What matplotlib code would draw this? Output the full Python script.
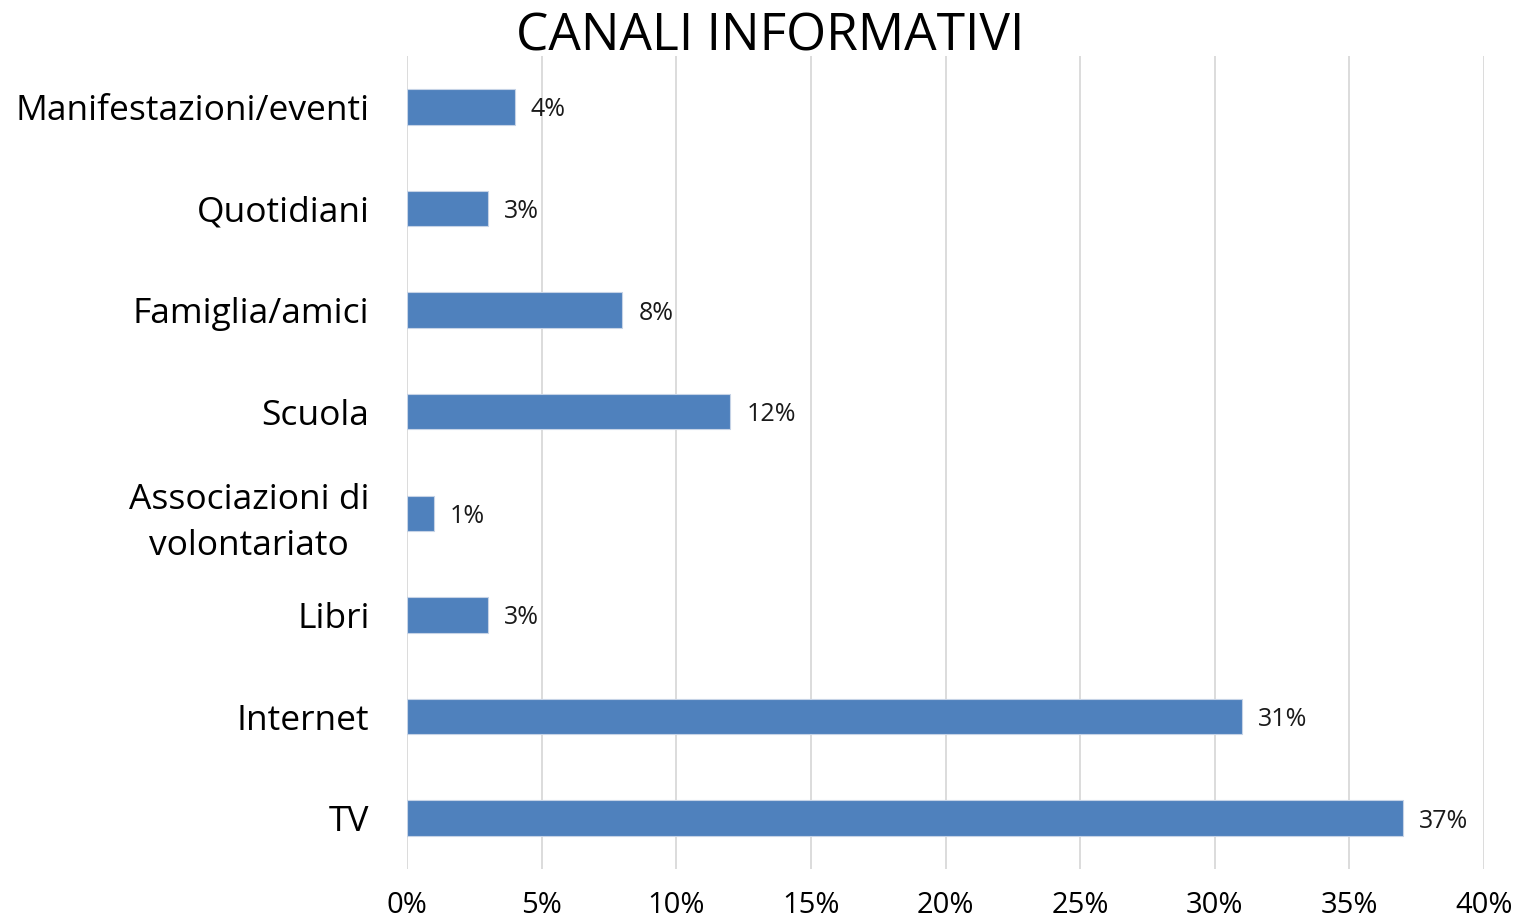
import matplotlib.pyplot as plt

# data (top to bottom as shown)
categories = ["Manifestazioni/eventi", "Quotidiani", "Famiglia/amici", "Scuola",
              "Associazioni di\nvolontariato", "Libri", "Internet", "TV"]
values = [4, 3, 8, 12, 1, 3, 31, 37]
xticks = [0, 5, 10, 15, 20, 25, 30, 35, 40]

plt.rcParams['font.family'] = ['Open Sans', 'DejaVu Sans']

fig = plt.figure(figsize=(15.16, 9.23), dpi=100)
ax = fig.add_axes([0.2685, 0.0585, 0.7104, 0.8808])

pos = list(range(len(categories)))
ax.barh(pos, values, height=0.35, color="#4f81bd", edgecolor="#c6d3e6", linewidth=0.8, zorder=3)
for p, v in zip(pos, values):
    ax.text(v + 0.6, p, f"{v}%", va="center_baseline", ha="left", fontsize=18, color="#1a1a1a")

ax.set_ylim(len(categories) - 0.5, -0.5)
ax.set_xlim(0, 40)
ax.set_yticks(pos)
ax.set_yticklabels(categories, fontsize=25.5, linespacing=1.45)
ax.set_xticks(xticks)
ax.set_xticklabels([f"{t}%" for t in xticks], fontsize=21)
ax.tick_params(axis="both", length=0)
ax.tick_params(axis="y", pad=27)
ax.tick_params(axis="x", pad=16)
for lbl in ax.get_yticklabels():
    lbl.set_multialignment("center")

ax.grid(axis="x", color="#d9d9d9", linewidth=1.3, zorder=0)
for s in ax.spines.values():
    s.set_visible(False)

fig.text(0.508, 0.960, "CANALI INFORMATIVI", ha="center", va="center", fontsize=37)

fig.savefig("out.png", dpi=100)
